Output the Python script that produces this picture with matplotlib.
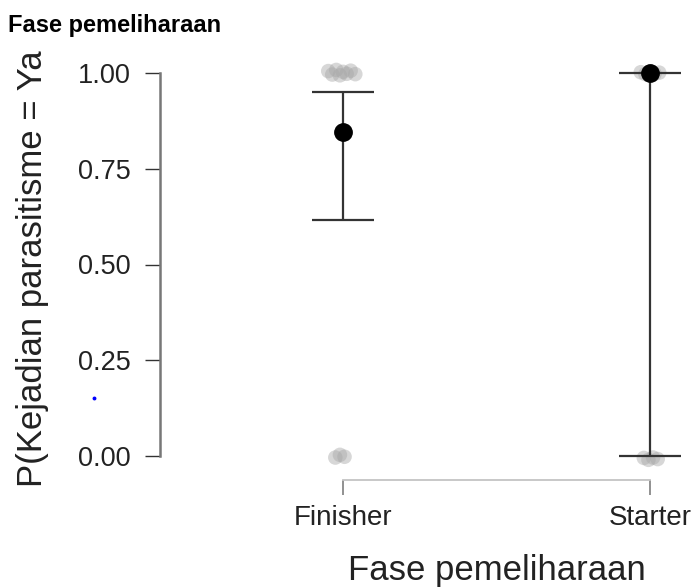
import numpy as np
import matplotlib
matplotlib.use("Agg")
import matplotlib.pyplot as plt
from matplotlib.lines import Line2D

plt.rcParams['font.family'] = ['Liberation Sans', 'DejaVu Sans']

# model estimates per group
groups = ['Finisher', 'Starter']
prob = [0.846, 1.0]
ci_low = [0.616, 0.0]
ci_high = [0.950, 1.0]

fin_obs = [1, 1, 1, 1, 1, 1, 1, 1, 0, 0, 0]
fin_jx = [-0.048, -0.035, -0.022, -0.01, 0.0, 0.012, 0.025, 0.04, -0.025, -0.01, 0.005]
fin_jy = [0.005, -0.004, 0.008, -0.006, 0.003, -0.002, 0.006, -0.003, -0.004, 0.003, -0.002]
sta_obs = [1, 1, 1, 1, 1, 0, 0, 0, 0]
sta_jx = [-0.03, -0.015, 0.0, 0.015, 0.03, -0.02, -0.005, 0.01, 0.025]
sta_jy = [0.002, -0.003, 0.004, -0.002, 0.001, -0.005, -0.01, -0.004, -0.008]

yticks = [0.0, 0.25, 0.5, 0.75, 1.0]
ytick_labels = ['0.00', '0.25', '0.50', '0.75', '1.00']

fig = plt.figure(figsize=(6.96, 5.87), dpi=100)
W, H = 696, 587
ax = fig.add_axes([160 / W, 1 - 480 / H, 536 / W, 420 / H])

xpos = np.arange(len(groups))

# jittered raw points
for i, (obs, jx, jy) in enumerate([(fin_obs, fin_jx, fin_jy), (sta_obs, sta_jx, sta_jy)]):
    ax.scatter(i + np.array(jx), np.array(obs) + np.array(jy), s=110,
               color='#a8a8a8', alpha=0.45, edgecolors='none', zorder=1, clip_on=False)

# confidence intervals
ax.errorbar(xpos, prob,
            yerr=[np.array(prob) - np.array(ci_low), np.array(ci_high) - np.array(prob)],
            fmt='none', ecolor='#333333', elinewidth=1.6, capsize=22, capthick=1.6, zorder=2)
ax.plot(xpos, prob, 'o', color='black', markersize=12.5, zorder=3, clip_on=False)

ax.set_xlim(-(343 - 160) / 307, (696 - 343) / 307)
ax.set_ylim(-24 / 383, 1 + 13 / 383)

for s in ['top', 'right']:
    ax.spines[s].set_visible(False)
ax.spines['left'].set_bounds(0, 1)
ax.spines['left'].set_color('#777777')
ax.spines['left'].set_linewidth(1.8)
ax.spines['bottom'].set_bounds(0, 1)
ax.spines['bottom'].set_color('#c4c4c4')
ax.spines['bottom'].set_linewidth(1.3)

ax.set_yticks(yticks)
ax.set_yticklabels(ytick_labels)
ax.set_xticks(xpos)
ax.set_xticklabels(groups)
ax.tick_params(axis='y', length=11, width=1.0, color='#333333', pad=10,
               labelsize=19.5, labelcolor='#222222')
ax.tick_params(axis='x', length=11, width=1.3, color='#888888', pad=7,
               labelsize=20, labelcolor='#222222')

fig.text(497 / W, 1 - 580 / H, 'Fase pemeliharaan', fontsize=25,
         ha='center', va='baseline', color='#222222')
fig.text(33 / W, 1 - 487 / H, 'P(Kejadian parasitisme = Ya', fontsize=25,
         rotation=90, ha='center', va='bottom', color='#222222')
fig.text(8 / W, 1 - 32 / H, 'Fase pemeliharaan', fontsize=17,
         fontweight='bold', ha='left', va='baseline', color='black')

# stray blue dot in the original
fig.add_artist(Line2D([94 / W], [1 - 398 / H], marker='o', markersize=1.8,
                      color='blue', transform=fig.transFigure))

fig.savefig('out.png', dpi=100)
